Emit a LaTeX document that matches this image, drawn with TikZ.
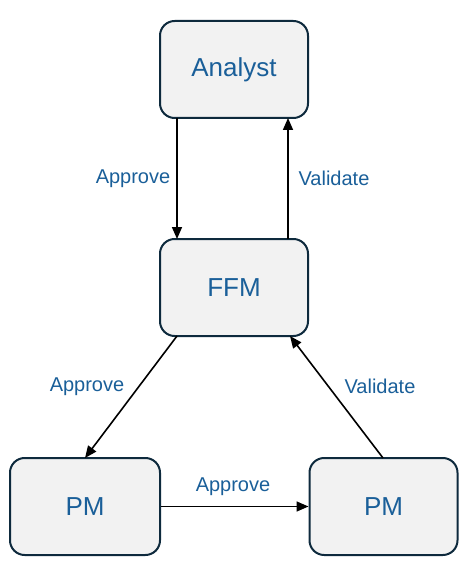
\documentclass[tikz,border=0pt]{standalone}
\usepackage{fontspec}
\setmainfont{Liberation Sans}
\usetikzlibrary{arrows.meta}
\definecolor{boxfill}{HTML}{F2F2F2}
\definecolor{boxline}{HTML}{0E2A3D}
\definecolor{txtblue}{HTML}{1A5F99}
\begin{document}
\begin{tikzpicture}[x=0.75pt,y=-0.75pt,
  box/.style={draw=boxline,fill=boxfill,line width=1.5pt,rounded corners=11pt,
    minimum width=111pt,minimum height=72.75pt,inner sep=0pt,
    text=txtblue,font=\fontsize{19.5}{22}\selectfont},
  lab/.style={text=txtblue,font=\fontsize{15}{17}\selectfont,inner sep=0pt},
  arr/.style={line width=1.2pt,-{Triangle[length=9pt,width=7.5pt]}}]
\useasboundingbox (0,0) rectangle (470,577);
\node[box] (an) at (234,69.5) {Analyst};
\node[box] (ffm) at (234,287.5) {FFM};
\node[box,minimum width=112.5pt] (pml) at (85,506.5) {PM};
\node[box] (pmr) at (383.5,506.5) {PM};
\coordinate (a1) at (177,118);
\coordinate (a2) at (177,239);
\coordinate (v1) at (288,239);
\coordinate (v2) at (288,118);
\coordinate (d1) at (177,336);
\coordinate (d2) at (85,458);
\coordinate (e1) at (383,458);
\coordinate (e2) at (290,336);
\draw[arr] (a1) -- (a2);
\draw[arr] (v1) -- (v2);
\draw[arr] (d1) -- (d2);
\draw[arr] (e1) -- (e2);
\draw[arr] (pml.east) -- (pmr.west);
\node[lab] at (133,179) {Approve};
\node[lab] at (334,178) {Validate};
\node[lab] at (87,387) {Approve};
\node[lab] at (380,386) {Validate};
\node[lab] at (233,487) {Approve};
\end{tikzpicture}
\end{document}
